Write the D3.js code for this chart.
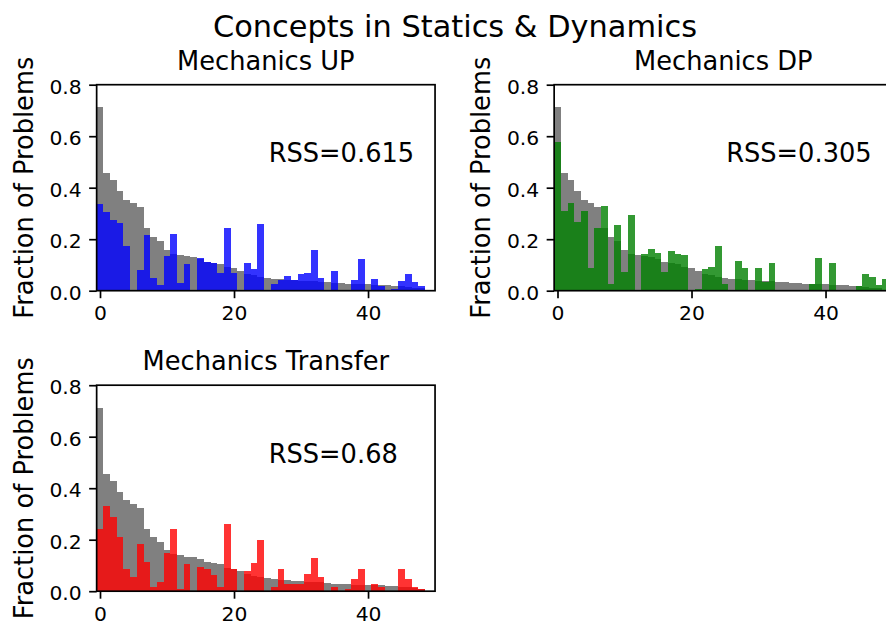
<!DOCTYPE html>
<html>
<head>
<meta charset="utf-8">
<script src="https://cdn.jsdelivr.net/npm/d3@7"></script>
<style>
  html, body { margin: 0; padding: 0; background: #fff; }
  svg { display: block; font-family: "DejaVu Sans", sans-serif; }
</style>
</head>
<body>
<svg id="chart" width="886" height="625"></svg>
<script>
// Fraction of problems per concept index (0..49)
const conceptIndex = d3.range(50);

// Overall distribution, drawn in gray behind every panel
const overallShare = [0.712,0.457,0.429,0.387,0.353,0.340,0.325,0.243,0.210,0.193,
                      0.160,0.143,0.140,0.133,0.132,0.124,0.112,0.108,0.105,0.092,
                      0.088,0.077,0.065,0.060,0.055,0.050,0.046,0.045,0.043,0.041,
                      0.039,0.037,0.036,0.034,0.033,0.029,0.028,0.027,0.026,0.026,
                      0.025,0.024,0.023,0.021,0.019,0.017,0.015,0.012,0.010,0];

const upShare = [0.336,0.304,0.274,0.263,0.175,0,0.079,0.215,0.048,0.022,
                 0.134,0.220,0.029,0.102,0,0.126,0.113,0.108,0.070,0.244,
                 0.070,0,0.108,0.086,0.258,0,0.025,0.040,0.058,0.040,
                 0.064,0.070,0.160,0.048,0,0.075,0,0,0.043,0.122,
                 0,0.044,0.018,0,0.008,0.038,0.064,0.035,0.017,0];

const dpShare = [0.578,0.309,0.342,0.268,0.309,0.088,0.244,0.328,0.027,0.257,
                 0.073,0.293,0,0.141,0.162,0.148,0.073,0.153,0.144,0.137,
                 0,0.008,0.083,0.092,0.172,0.027,0,0.117,0.088,0,
                 0.087,0.034,0.108,0,0,0,0,0,0.027,0.126,
                 0,0.108,0,0,0,0.017,0.066,0.052,0.022,0.044];

const transferShare = [0.240,0.331,0.288,0.210,0.085,0.056,0.183,0.113,0.015,0.037,
                       0.147,0.240,0.007,0.107,0,0.093,0.086,0.063,0.015,0.261,
                       0.087,0,0.078,0.108,0.197,0,0.015,0.085,0.028,0.028,
                       0.028,0.065,0.128,0.056,0,0.015,0,0.007,0.047,0.085,
                       0,0.028,0.015,0,0,0.085,0.047,0.015,0.007,0];

const yTicks = [0, 0.2, 0.4, 0.6, 0.8];
const xTicks = [0, 20, 40];

const panels = [
  { title: "Mechanics UP", rss: "RSS=0.615", values: upShare, color: "blue",
    left: 96.65, top: 84.7 },
  { title: "Mechanics DP", rss: "RSS=0.305", values: dpShare, color: "green",
    left: 554.15, top: 84.7 },
  { title: "Mechanics Transfer", rss: "RSS=0.68", values: transferShare, color: "red",
    left: 96.65, top: 385.2 }
];

const W = 338.4, H = 206.0;
const tickLen = 7.5, lineW = 1.7;
const svg = d3.select("#chart");

svg.append("text")
  .attr("x", 455).attr("y", 37)
  .attr("text-anchor", "middle")
  .attr("font-size", "30.4px")
  .attr("fill", "#000")
  .text("Concepts in Statics & Dynamics");

panels.forEach(p => {
  const x = d3.scaleLinear().domain([-0.5, 50]).range([p.left, p.left + W]);
  const y = d3.scaleLinear().domain([0, 0.8]).range([p.top + H, p.top]);
  const g = svg.append("g");

  const bars = g.append("g").attr("shape-rendering", "crispEdges");
  bars.selectAll("rect.base")
    .data(conceptIndex.filter(i => overallShare[i] > 0))
    .join("rect")
    .attr("class", "base")
    .attr("x", i => x(i - 0.5))
    .attr("width", i => x(i + 0.5) - x(i - 0.5))
    .attr("y", i => y(overallShare[i]))
    .attr("height", i => y(0) - y(overallShare[i]))
    .attr("fill", "#808080");

  bars.selectAll("rect.course")
    .data(conceptIndex.filter(i => p.values[i] > 0))
    .join("rect")
    .attr("class", "course")
    .attr("x", i => x(i - 0.5))
    .attr("width", i => x(i + 0.5) - x(i - 0.5))
    .attr("y", i => y(p.values[i]))
    .attr("height", i => y(0) - y(p.values[i]))
    .attr("fill", p.color)
    .attr("fill-opacity", 0.8);

  // frame
  g.append("rect")
    .attr("x", p.left).attr("y", p.top)
    .attr("width", W).attr("height", H)
    .attr("fill", "none").attr("stroke", "#000")
    .attr("stroke-width", lineW);

  // y axis
  const yAxis = d3.axisLeft(y).tickValues(yTicks).tickFormat(d3.format(".1f"))
    .tickSize(tickLen).tickPadding(7.5);
  const ya = g.append("g").attr("transform", `translate(${p.left},0)`).call(yAxis);
  ya.select(".domain").remove();
  ya.selectAll(".tick line").attr("stroke", "#000").attr("stroke-width", lineW);
  ya.selectAll(".tick text")
    .attr("font-size", "20.3px").attr("fill", "#000")
    .attr("font-family", "DejaVu Sans, sans-serif")
    .attr("dy", "0.42em");

  // x axis
  const xAxis = d3.axisBottom(x).tickValues(xTicks).tickFormat(d3.format("d"))
    .tickSize(tickLen).tickPadding(7.5);
  const xa = g.append("g").attr("transform", `translate(0,${p.top + H})`).call(xAxis);
  xa.select(".domain").remove();
  xa.selectAll(".tick line").attr("stroke", "#000").attr("stroke-width", lineW);
  xa.selectAll(".tick text")
    .attr("font-size", "20.3px").attr("fill", "#000")
    .attr("font-family", "DejaVu Sans, sans-serif");

  // y label
  g.append("text")
    .attr("transform", `translate(${p.left - 64},${p.top + H / 2}) rotate(-90)`)
    .attr("text-anchor", "middle")
    .attr("font-size", "25.7px")
    .attr("fill", "#000")
    .text("Fraction of Problems");

  // panel title
  g.append("text")
    .attr("x", p.left + W / 2).attr("y", p.top - 15.2)
    .attr("text-anchor", "middle")
    .attr("font-size", "25.7px")
    .attr("fill", "#000")
    .text(p.title);

  // residual sum of squares annotation
  g.append("text")
    .attr("x", p.left + 172).attr("y", p.top + H - 128.3)
    .attr("font-size", "25.7px")
    .attr("fill", "#000")
    .text(p.rss);
});
</script>
</body>
</html>
